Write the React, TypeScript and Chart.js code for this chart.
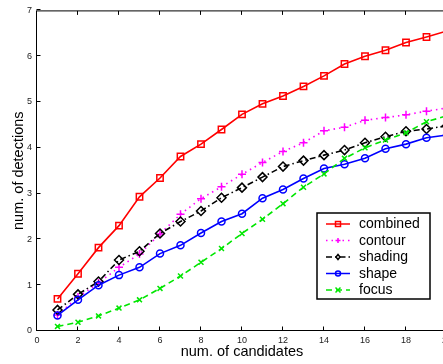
import React, { useEffect, useRef } from "react";
import { Chart, registerables } from "chart.js";

Chart.register(...registerables);

const candidates = [1, 2, 3, 4, 5, 6, 7, 8, 9, 10, 11, 12, 13, 14, 15, 16, 17, 18, 19, 20];
const combined = [0.70, 1.25, 1.82, 2.30, 2.93, 3.34, 3.81, 4.08, 4.40, 4.73, 4.96, 5.13, 5.34, 5.57, 5.83, 6.00, 6.13, 6.30, 6.42, 6.55];
const contour = [0.35, 0.74, 1.05, 1.39, 1.68, 2.12, 2.55, 2.89, 3.15, 3.42, 3.68, 3.92, 4.11, 4.37, 4.45, 4.60, 4.66, 4.72, 4.80, 4.87];
const shading = [0.46, 0.80, 1.08, 1.55, 1.74, 2.13, 2.39, 2.62, 2.91, 3.13, 3.36, 3.59, 3.72, 3.84, 3.95, 4.11, 4.24, 4.36, 4.41, 4.48];
const shape = [0.34, 0.68, 1.00, 1.22, 1.39, 1.69, 1.87, 2.14, 2.39, 2.56, 2.90, 3.09, 3.33, 3.55, 3.64, 3.77, 3.98, 4.08, 4.22, 4.28];
const focus = [0.10, 0.19, 0.33, 0.50, 0.68, 0.93, 1.20, 1.50, 1.80, 2.13, 2.44, 2.78, 3.14, 3.43, 3.77, 4.00, 4.17, 4.33, 4.57, 4.70];
const seriesNames = ["combined", "contour", "shading", "shape", "focus"];
const xTicks = [0, 2, 4, 6, 8, 10, 12, 14, 16, 18, 20];
const yTicks = [0, 1, 2, 3, 4, 5, 6, 7];
const xTitle = "num. of candidates";
const yTitle = "num. of detections";

const FONT = "'Liberation Sans', Arial, Helvetica, sans-serif";

const styles = [
  { color: "#ff0000", point: "rect", radius: 4.5, dash: [] as number[] },
  { color: "#ff00ff", point: "cross", radius: 4, dash: [1.5, 4] },
  { color: "#000000", point: "rectRot", radius: 4.5, dash: [6, 3, 1.5, 3] },
  { color: "#0000ff", point: "circle", radius: 3.5, dash: [] as number[] },
  { color: "#00e600", point: "crossRot", radius: 3.5, dash: [6, 4] },
];

function drawMarker(ctx: CanvasRenderingContext2D, kind: string, x: number, y: number, s: number) {
  ctx.beginPath();
  if (kind === "rect") {
    ctx.rect(x - s, y - s, 2 * s, 2 * s);
  } else if (kind === "cross") {
    ctx.moveTo(x - s, y); ctx.lineTo(x + s, y);
    ctx.moveTo(x, y - s); ctx.lineTo(x, y + s);
  } else if (kind === "rectRot") {
    ctx.moveTo(x, y - s); ctx.lineTo(x + s * 0.8, y); ctx.lineTo(x, y + s); ctx.lineTo(x - s * 0.8, y); ctx.closePath();
  } else if (kind === "circle") {
    ctx.arc(x, y, s, 0, Math.PI * 2);
  } else {
    ctx.moveTo(x - s, y - s); ctx.lineTo(x + s, y + s);
    ctx.moveTo(x + s, y - s); ctx.lineTo(x - s, y + s);
  }
  ctx.stroke();
}

const framePlugin = {
  id: "frameAndLegend",
  afterDraw(chart: any) {
    const { ctx, chartArea: a, scales } = chart;
    const xs = scales.x;
    const ys = scales.y;
    ctx.save();
    ctx.strokeStyle = "#000";
    ctx.lineWidth = 1;
    ctx.setLineDash([]);
    ctx.strokeRect(a.left - 0.5, a.top + 0.5, a.right - a.left + 1, a.bottom - a.top - 1);
    ctx.beginPath();
    const tl = 4;
    xTicks.forEach((v) => {
      const px = Math.round(xs.getPixelForValue(v)) - 0.5;
      ctx.moveTo(px, a.bottom - 0.5);
      ctx.lineTo(px, a.bottom - 0.5 - tl);
      ctx.moveTo(px, a.top + 0.5);
      ctx.lineTo(px, a.top + 0.5 + tl);
    });
    yTicks.forEach((v) => {
      const py = Math.round(ys.getPixelForValue(v)) - 0.5;
      ctx.moveTo(a.left - 0.5, py);
      ctx.lineTo(a.left - 0.5 + tl, py);
      ctx.moveTo(a.right + 0.5, py);
      ctx.lineTo(a.right + 0.5 - tl, py);
    });
    ctx.stroke();

    // legend
    const bx = a.right - 130;
    const by = a.bottom - 118;
    const bw = 113;
    const bh = 86;
    ctx.fillStyle = "#fff";
    ctx.fillRect(bx, by, bw, bh);
    ctx.lineWidth = 1.5;
    ctx.strokeStyle = "#000";
    ctx.strokeRect(bx, by, bw, bh);
    ctx.font = `14px ${FONT}`;
    ctx.textBaseline = "middle";
    ctx.textAlign = "left";
    seriesNames.forEach((name, i) => {
      const st = styles[i];
      const y = by + 11 + i * 16.5;
      ctx.strokeStyle = st.color;
      ctx.lineWidth = 1.5;
      ctx.setLineDash(st.dash);
      ctx.beginPath();
      ctx.moveTo(bx + 9, y);
      ctx.lineTo(bx + 33, y);
      ctx.stroke();
      ctx.setLineDash([]);
      drawMarker(ctx, st.point, bx + 21, y, 2.5);
      ctx.fillStyle = "#000";
      ctx.fillText(name, bx + 42, y + 0.5);
    });
    ctx.restore();
  },
};

export default function App() {
  const ref = useRef<HTMLCanvasElement>(null);
  useEffect(() => {
    if (!ref.current) return;
    const series = [combined, contour, shading, shape, focus];
    const chart = new Chart(ref.current, {
      type: "line",
      data: {
        labels: candidates,
        datasets: series.map((vals, i) => ({
          label: seriesNames[i],
          data: vals.map((v, j) => ({ x: candidates[j], y: v })),
          borderColor: styles[i].color,
          backgroundColor: "rgba(0,0,0,0)",
          borderWidth: 1.6,
          borderDash: styles[i].dash,
          pointStyle: styles[i].point as any,
          pointRadius: styles[i].radius,
          pointBorderWidth: 1.5,
          pointBorderColor: styles[i].color,
          pointBackgroundColor: "rgba(0,0,0,0)",
          fill: false,
          tension: 0,
          order: 5 - i,
        })),
      },
      options: {
        responsive: false,
        animation: false,
        devicePixelRatio: 1,
        layout: { padding: { top: 6, right: 13, left: 0, bottom: 0 } },
        plugins: { legend: { display: false }, tooltip: { enabled: false } },
        scales: {
          x: {
            type: "linear",
            min: 0,
            max: 20,
            afterFit: (s: any) => { s.height = 33; },
            afterBuildTicks: (s: any) => { s.ticks = xTicks.map((v) => ({ value: v })); },
            grid: { display: false, drawTicks: false },
            border: { display: false },
            ticks: { padding: 4, color: "#222", font: { family: FONT, size: 9 }, maxRotation: 0, autoSkip: false },
            title: { display: true, text: xTitle, color: "#000", font: { family: FONT, size: 14.5 }, padding: { top: 0, bottom: 3.6 } },
          },
          y: {
            type: "linear",
            min: 0,
            max: 7,
            afterFit: (s: any) => { s.width = 37; },
            afterBuildTicks: (s: any) => { s.ticks = yTicks.map((v) => ({ value: v })); },
            grid: { display: false, drawTicks: false },
            border: { display: false },
            ticks: { padding: 5, color: "#222", font: { family: FONT, size: 9 } },
            title: { display: true, text: yTitle, color: "#000", font: { family: FONT, size: 14.5 }, padding: { top: 10.3, bottom: 0 } },
          },
        },
      },
      plugins: [framePlugin],
    });
    return () => chart.destroy();
  }, []);
  return (
    <div style={{ position: "fixed", left: 0, top: 0, width: 443, height: 364, overflow: "hidden", background: "#fff" }}>
      <canvas ref={ref} width={460} height={364} style={{ display: "block" }} />
    </div>
  );
}
